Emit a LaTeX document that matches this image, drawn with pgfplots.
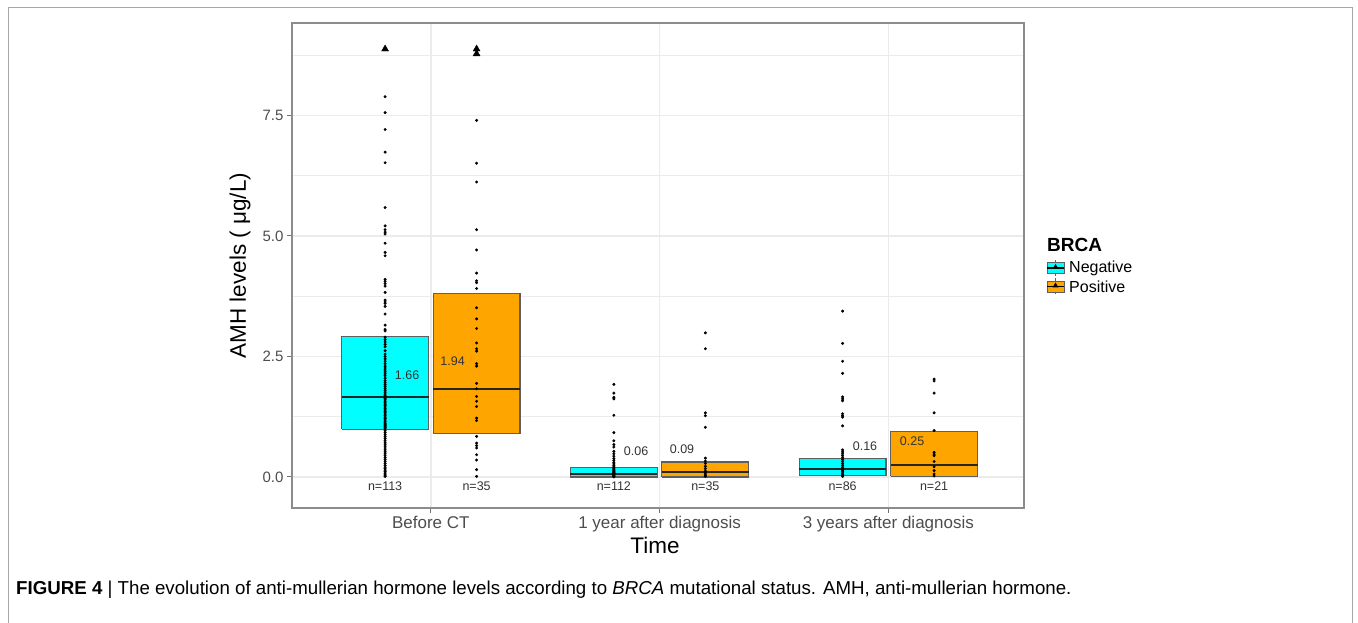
\documentclass[border=0pt]{standalone}
\usepackage{pgfplots}
\pgfplotsset{compat=1.18}
\usepackage{fontspec}
\setmainfont{Liberation Sans}
\definecolor{negc}{RGB}{0,255,255}
\definecolor{posc}{RGB}{255,165,0}
\definecolor{gridc}{RGB}{235,235,235}
\definecolor{tickc}{RGB}{77,77,77}
\definecolor{boxc}{RGB}{95,95,95}
\begin{document}
\begin{tikzpicture}[x=1pt,y=1pt]
\useasboundingbox (0,0) rectangle (1358,623);
\draw[black!35, line width=1pt] (8,0) -- (8,615) -- (1352,615) -- (1352,0);
\begin{axis}[at={(292pt,115pt)}, anchor=south west, scale only axis,
  width=732pt, height=485pt,
  xmin=0.393, xmax=3.593, ymin=-0.645, ymax=9.42,
  xtick={1,2,3},
  xticklabels={Before CT, 1 year after diagnosis, 3 years after diagnosis},
  ytick={0,2.5,5,7.5}, yticklabels={0.0,2.5,5.0,7.5},
  minor ytick={1.25,3.75,6.25,8.75},
  grid=both,
  major grid style={gridc, line width=1.5pt},
  minor grid style={gridc, line width=0.8pt},
  axis line style={black!45, line width=1.3pt},
  tick pos=left, tick align=outside, major tick length=5pt,
  minor tick length=0pt,
  tick style={black!55, line width=1pt},
  yticklabel style={font=\fontsize{15}{18}\selectfont, text=tickc},
  xticklabel style={font=\fontsize{17}{20}\selectfont, text=tickc},
  xlabel={Time}, ylabel={AMH levels ( μg/L)},
  xlabel style={font=\fontsize{22.5}{26}\selectfont, at={(axis description cs:0.496,-0.0763)}, anchor=center},
  ylabel style={font=\fontsize{22.5}{26}\selectfont, at={(axis description cs:-0.071,0.5)}, anchor=center},
  clip=false,
]
% boxes
\addplot[fill=negc, draw=boxc, line width=1.2pt] coordinates {(0.61,0.99) (0.99,0.99) (0.99,2.92) (0.61,2.92) (0.61,0.99)};
\addplot[fill=posc, draw=boxc, line width=1.2pt] coordinates {(1.01,0.90) (1.39,0.90) (1.39,3.80) (1.01,3.80) (1.01,0.90)};
\addplot[fill=negc, draw=boxc, line width=1.2pt] coordinates {(1.61,0.00) (1.99,0.00) (1.99,0.19) (1.61,0.19) (1.61,0.00)};
\addplot[fill=posc, draw=boxc, line width=1.2pt] coordinates {(2.01,0.00) (2.39,0.00) (2.39,0.31) (2.01,0.31) (2.01,0.00)};
\addplot[fill=negc, draw=boxc, line width=1.2pt] coordinates {(2.61,0.03) (2.99,0.03) (2.99,0.375) (2.61,0.375) (2.61,0.03)};
\addplot[fill=posc, draw=boxc, line width=1.2pt] coordinates {(3.01,0.01) (3.39,0.01) (3.39,0.94) (3.01,0.94) (3.01,0.01)};
% medians
\addplot[black!85, line width=1.8pt] coordinates {(0.61,1.66) (0.99,1.66)};
\addplot[black!85, line width=1.8pt] coordinates {(1.01,1.83) (1.39,1.83)};
\addplot[black!85, line width=1.8pt] coordinates {(1.61,0.06) (1.99,0.06)};
\addplot[black!85, line width=1.8pt] coordinates {(2.01,0.10) (2.39,0.10)};
\addplot[black!85, line width=1.8pt] coordinates {(2.61,0.17) (2.99,0.17)};
\addplot[black!85, line width=1.8pt] coordinates {(3.01,0.25) (3.39,0.25)};
% points
\addplot[only marks, mark=*, mark size=1.3pt, black] table[row sep=\\, x expr=0.8, y=v] {
v\\ 7.89\\ 7.56\\ 7.21\\ 6.74\\ 6.52\\ 5.59\\ 5.21\\ 5.13\\ 5.08\\ 5.04\\ 4.85\\ 4.66\\ 4.59\\
4.10\\ 4.06\\ 4.01\\ 3.96\\ 3.83\\ 3.67\\ 3.63\\ 3.60\\ 3.54\\ 3.38\\ 3.15\\ 3.06\\ 3.03\\
2.90\\ 2.85\\ 2.80\\ 2.75\\ 2.70\\ 2.62\\ 2.55\\ 2.50\\ 2.45\\ 2.40\\ 2.35\\ 2.30\\ 2.26\\ 2.22\\ 2.18\\ 2.14\\ 2.10\\ 2.05\\ 2.00\\ 1.96\\ 1.92\\ 1.88\\ 1.84\\ 1.80\\ 1.76\\ 1.72\\ 1.69\\ 1.66\\
1.63\\ 1.60\\ 1.57\\ 1.54\\ 1.51\\ 1.48\\ 1.45\\ 1.42\\ 1.39\\ 1.36\\ 1.33\\ 1.30\\ 1.27\\ 1.24\\ 1.21\\ 1.18\\ 1.15\\ 1.12\\ 1.10\\ 1.08\\ 1.06\\ 1.04\\ 1.02\\ 1.00\\
0.96\\ 0.92\\ 0.88\\ 0.84\\ 0.80\\ 0.76\\ 0.72\\ 0.68\\ 0.64\\ 0.60\\ 0.56\\ 0.52\\ 0.48\\ 0.44\\ 0.40\\ 0.36\\ 0.32\\ 0.28\\ 0.24\\ 0.20\\ 0.17\\ 0.14\\ 0.11\\ 0.08\\ 0.06\\ 0.04\\ 0.02\\ 0.01\\
};
\addplot[only marks, mark=*, mark size=1.3pt, black] table[row sep=\\, x expr=1.2, y=v] {
v\\ 7.40\\ 6.51\\ 6.12\\ 5.13\\ 4.71\\ 4.23\\ 4.07\\ 4.03\\ 3.91\\ 3.51\\ 3.28\\ 3.08\\ 2.78\\ 2.66\\ 2.61\\ 2.35\\ 2.30\\ 1.94\\ 1.83\\ 1.67\\ 1.57\\ 1.46\\ 1.22\\ 1.17\\ 0.84\\ 0.70\\ 0.65\\ 0.60\\ 0.46\\ 0.35\\ 0.15\\ 0.01\\
};
\addplot[only marks, mark=*, mark size=1.3pt, black] table[row sep=\\, x expr=1.8, y=v] {
v\\ 1.92\\ 1.74\\ 1.65\\ 1.62\\ 1.28\\ 0.92\\ 0.75\\ 0.67\\ 0.62\\ 0.53\\ 0.48\\ 0.43\\ 0.38\\ 0.34\\ 0.30\\ 0.27\\ 0.24\\ 0.21\\ 0.19\\ 0.17\\ 0.15\\ 0.13\\ 0.11\\ 0.10\\ 0.09\\ 0.08\\ 0.07\\ 0.06\\ 0.05\\ 0.04\\ 0.03\\ 0.02\\ 0.01\\ 0.00\\
};
\addplot[only marks, mark=*, mark size=1.3pt, black] table[row sep=\\, x expr=2.2, y=v] {
v\\ 2.99\\ 2.66\\ 1.33\\ 1.27\\ 1.03\\ 0.39\\ 0.33\\ 0.28\\ 0.22\\ 0.17\\ 0.12\\ 0.09\\ 0.06\\ 0.03\\ 0.01\\
};
\addplot[only marks, mark=*, mark size=1.3pt, black] table[row sep=\\, x expr=2.8, y=v] {
v\\ 3.44\\ 2.77\\ 2.40\\ 2.15\\ 1.66\\ 1.62\\ 1.58\\ 1.31\\ 1.27\\ 1.24\\ 1.06\\ 0.56\\ 0.52\\ 0.48\\ 0.44\\ 0.40\\ 0.36\\ 0.32\\ 0.28\\ 0.24\\ 0.20\\ 0.17\\ 0.14\\ 0.11\\ 0.08\\ 0.05\\ 0.03\\ 0.01\\
};
\addplot[only marks, mark=*, mark size=1.3pt, black] table[row sep=\\, x expr=3.2, y=v] {
v\\ 2.03\\ 1.99\\ 1.74\\ 1.33\\ 0.96\\ 0.51\\ 0.47\\ 0.44\\ 0.32\\ 0.21\\ 0.13\\ 0.06\\ 0.02\\
};
% triangles at top
\addplot[only marks, mark=triangle*, mark size=4pt, black] coordinates {(0.8,8.88) (1.2,8.78) (1.2,8.88)};
% n labels
\begin{scope}[every node/.style={font=\fontsize{12.5}{14}\selectfont, text=black!80}]
\node at (axis cs:0.8,-0.20) {n=113};
\node at (axis cs:1.2,-0.20) {n=35};
\node at (axis cs:1.8,-0.20) {n=112};
\node at (axis cs:2.2,-0.20) {n=35};
\node at (axis cs:2.8,-0.20) {n=86};
\node at (axis cs:3.2,-0.20) {n=21};
\node at (axis cs:0.896,2.12) {1.66};
\node at (axis cs:1.095,2.41) {1.94};
\node at (axis cs:1.897,0.53) {0.06};
\node at (axis cs:2.098,0.57) {0.09};
\node at (axis cs:2.898,0.635) {0.16};
\node at (axis cs:3.104,0.74) {0.25};
\end{scope}
\end{axis}
% legend
\node[anchor=west, inner sep=0pt, font=\fontsize{19}{22}\selectfont\bfseries] at (1047,378) {BRCA};
\draw[boxc, line width=0.8pt] (1055.5,347) -- (1055.5,363);
\draw[fill=negc, draw=boxc, line width=0.8pt] (1047,349.5) rectangle (1064,360.5);
\draw[black, line width=1.2pt] (1047,355) -- (1064,355);
\fill[black] (1052.5,354) -- (1058.5,354) -- (1055.5,359) -- cycle;
\node[anchor=west, inner sep=0pt, font=\fontsize{16}{19}\selectfont] at (1069,355) {Negative};
\draw[boxc, line width=0.8pt] (1055.5,328.5) -- (1055.5,344.5);
\draw[fill=posc, draw=boxc, line width=0.8pt] (1047,331) rectangle (1064,342);
\draw[black, line width=1.2pt] (1047,336.5) -- (1064,336.5);
\fill[black] (1052.5,335.5) -- (1058.5,335.5) -- (1055.5,340.5) -- cycle;
\node[anchor=west, inner sep=0pt, font=\fontsize{16}{19}\selectfont] at (1069,336.5) {Positive};
% caption
\node[anchor=west, inner sep=0pt, font=\fontsize{18.7}{21}\selectfont] at (16,33) {\textbf{FIGURE 4} | The evolution of anti-mullerian hormone levels according to \textit{BRCA} mutational status. AMH, anti-mullerian hormone.};
\end{tikzpicture}
\end{document}
